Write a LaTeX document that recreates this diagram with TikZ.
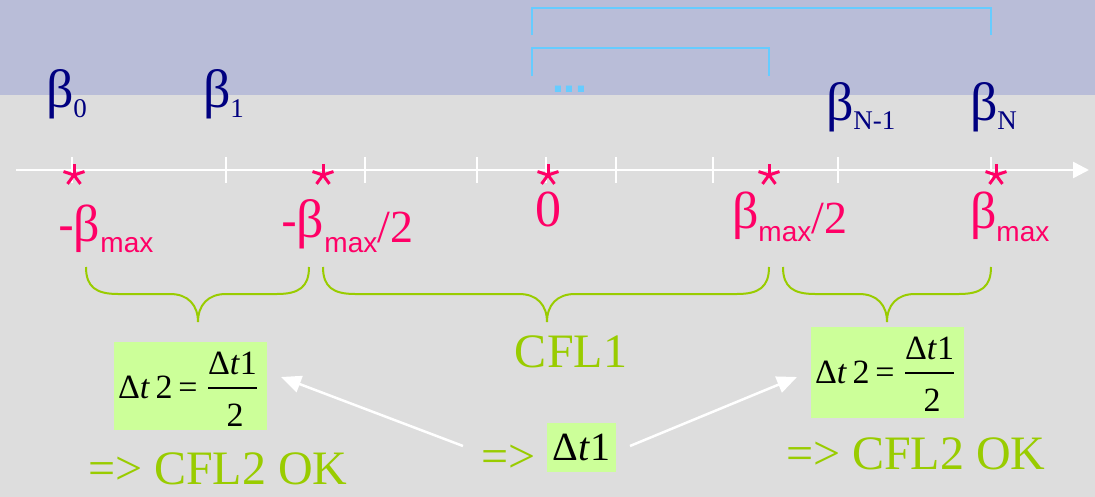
\documentclass[tikz,border=0pt]{standalone}
\usepackage{fontspec}
\setmainfont{Liberation Serif}
\newfontfamily\sansf{Liberation Sans}
\newfontfamily\serf{Liberation Serif}
\usetikzlibrary{arrows.meta}
\definecolor{bandc}{RGB}{185,189,216}
\definecolor{bgc}{RGB}{221,221,221}
\definecolor{navyc}{RGB}{0,0,128}
\definecolor{pinkc}{RGB}{255,0,102}
\definecolor{grnc}{RGB}{153,204,0}
\definecolor{boxc}{RGB}{204,255,153}
\definecolor{skyc}{RGB}{102,204,255}
\newcommand\myfs[1]{\fontsize{#1}{#1}\selectfont}
\begin{document}
\begin{tikzpicture}[x=1pt,y=-1pt,
  lbl/.style={anchor=base west,inner sep=0pt,outer sep=0pt},
  navylbl/.style={lbl,text=navyc,font=\serf\myfs{54}},
  pinklbl/.style={lbl,text=pinkc,font=\serf\myfs{52}},
  grntext/.style={lbl,text=grnc,font=\serf\myfs{48}},
  mathbox/.style={fill=boxc,inner sep=0pt,outer sep=0pt},
  mt/.style={lbl,text=black,font=\serf\myfs{34}},
  fracbar/.style={black,line width=1.2pt},
  tickline/.style={white,line width=2pt},
  bracket/.style={skyc,line width=1.5pt},
  brace/.style={grnc,line width=2pt},
  whitearrow/.style={white,line width=2.5pt,-{Triangle[length=20pt,width=17pt]}},
  starmark/.style={pinkc,line width=3pt}
]
\useasboundingbox (0,0) rectangle (1095,497);
\fill[bgc] (0,0) rectangle (1095,497);
\fill[bandc] (0,0) rectangle (1095,95);

% blue brackets
\draw[bracket] (532,35) -- (532,8) -- (991,8) -- (991,35);
\draw[bracket] (532,76) -- (532,48) -- (769,48) -- (769,76);
\node[lbl,text=skyc,font=\sansf\bfseries\myfs{43}] (dots) at (552,93) {...};

% navy labels
\node[navylbl] (b0) at (46,108) {β\raisebox{-10pt}{\myfs{27}0}};
\node[navylbl] (b1) at (203,108) {β\raisebox{-10pt}{\myfs{27}1}};
\node[navylbl] (bN1) at (826,121) {β\raisebox{-9pt}{\myfs{27}N-1}};
\node[navylbl] (bN) at (970,121) {β\raisebox{-9pt}{\myfs{27}N}};

% axis
\coordinate (ax0) at (16,170);
\coordinate (ax1) at (1089,170);
\draw[white,line width=2.5pt,-{Triangle[length=16pt,width=16pt]}] (ax0) -- (ax1);
\foreach \x in {72,226,365,477,546,616,713,838,991}
  \draw[tickline] (\x,157) -- (\x,183);

% stars
\foreach \x in {74,323,548,769,996}{
  \foreach \a in {270,342,54,126,198}
    \draw[starmark] (\x,175) -- ++(\a:11);
}

% pink labels
\node[pinklbl] (lmax) at (58,241) {\sansf\myfs{48}-\serf\myfs{52}β\raisebox{-12pt}{\sansf\myfs{28}max}};
\node[pinklbl] (lmhalf) at (281,238) {\sansf\myfs{48}-\serf\myfs{54}β\raisebox{-14pt}{\sansf\myfs{28}max}\raisebox{-5pt}{\serf\myfs{46}/2}};
\node[pinklbl,anchor=base] (zero) at (548,226) {0};
\node[pinklbl] (lhalf) at (732,229) {β\raisebox{-13pt}{\sansf\myfs{28}max}\raisebox{-5pt}{\serf\myfs{46}/2}};
\node[pinklbl] (rmax) at (970,229) {β\raisebox{-13pt}{\sansf\myfs{28}max}};

% braces
\draw[brace] (86,267) .. controls (86,287) and (96,294) .. (118,294) -- (170,294)
  .. controls (188,294) and (198,305) .. (198,322)
  .. controls (198,305) and (208,294) .. (226,294) -- (277,294)
  .. controls (299,294) and (309,287) .. (309,267);
\draw[brace] (323,267) .. controls (323,287) and (333,294) .. (355,294) -- (519,294)
  .. controls (537,294) and (547,305) .. (547,322)
  .. controls (547,305) and (557,294) .. (575,294) -- (737,294)
  .. controls (759,294) and (769,287) .. (769,267);
\draw[brace] (783,267) .. controls (783,287) and (793,294) .. (815,294) -- (859,294)
  .. controls (877,294) and (887,305) .. (887,322)
  .. controls (887,305) and (897,294) .. (915,294) -- (959,294)
  .. controls (981,294) and (991,287) .. (991,267);

% math boxes
\node[mathbox,minimum width=153pt,minimum height=88pt] (box1) at (190.5,386) {};
\node[mt] (lhs1) at (118,398) {Δ\textit{t}\,2};
\node[mt,anchor=base] (eq1) at (188,398) {=};
\node[mt,anchor=base] (num1) at (232.5,374) {Δ\textit{t}1};
\node[mt,anchor=base] (den1) at (235,426) {2};
\draw[fracbar] (208,388) -- (257,388);

\node[mathbox,minimum width=153pt,minimum height=91pt] (box2) at (887,372.5) {};
\node[mt] (lhs2) at (815,383) {Δ\textit{t}\,2};
\node[mt,anchor=base] (eq2) at (885,383) {=};
\node[mt,anchor=base] (num2) at (929.5,359) {Δ\textit{t}1};
\node[mt,anchor=base] (den2) at (932,411) {2};
\draw[fracbar] (905,373) -- (954,373);

\node[mathbox,minimum width=69pt,minimum height=49pt,font=\serf\myfs{40}] (box3) at (581.5,447.5)
  {Δ\textit{t}1};

% green texts
\node[grntext,anchor=base] (cfl1) at (571,367) {CFL1};
\node[grntext] (ok1) at (88,484) {=> CFL2 OK};
\node[grntext] (ok2) at (786,469) {=> CFL2 OK};
\node[grntext] (imp) at (481,472) {=>};

% white arrows
\coordinate (a1s) at (463,446);
\coordinate (a1e) at (281,377);
\coordinate (a2s) at (630,446);
\coordinate (a2e) at (797,377);
\draw[whitearrow] (a1s) -- (a1e);
\draw[whitearrow] (a2s) -- (a2e);
\end{tikzpicture}
\end{document}
